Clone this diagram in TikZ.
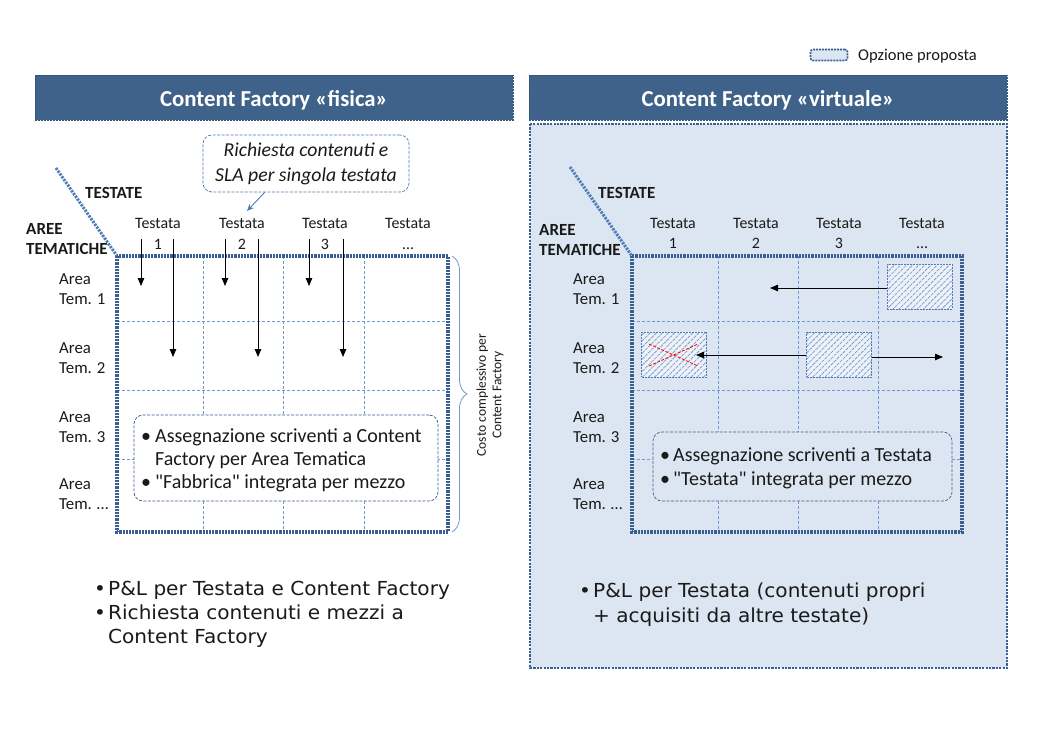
\documentclass[tikz,border=0pt]{standalone}
\usepackage{fontspec}
\setmainfont{Carlito}[Ligatures=TeXOff]
\newfontfamily\verd{DejaVu Sans}[FakeStretch=1.04]
\usetikzlibrary{patterns.meta,decorations.pathreplacing,arrows.meta,calc}
\definecolor{hdrblue}{HTML}{3F628A}
\definecolor{hdrborder}{HTML}{2E5470}
\definecolor{frameblue}{HTML}{3A5E91}
\definecolor{gridblue}{HTML}{7099CF}
\definecolor{midblue}{HTML}{4F7CB8}
\definecolor{lightfill}{HTML}{DCE6F2}
\definecolor{hatchblue}{HTML}{7B9BCB}
\definecolor{txt}{HTML}{1A1A1A}
\begin{document}
\begin{tikzpicture}[x=1pt,y=-1pt,
  frame/.style={draw=frameblue, line width=3.4pt, dash pattern=on 2.2pt off 1pt},
  gridline/.style={draw=gridblue, line width=0.8pt, dash pattern=on 3pt off 2pt},
  diag/.style={draw=midblue, line width=3pt, dash pattern=on 2.2pt off 1.2pt},
  hdr/.style={fill=hdrblue, draw=hdrborder, dash pattern=on 2pt off 1pt, line width=0.6pt, text=white,
     font=\bfseries\fontsize{22.8}{26}\selectfont, minimum width=478pt, minimum height=45pt, inner sep=0pt,
     text height=19pt, text depth=1pt},
  tlbl/.style={font=\fontsize{15.9}{20}\selectfont, anchor=base, text=txt, inner sep=0pt},
  alabel/.style={font=\fontsize{16.8}{20}\selectfont, anchor=base west, text=txt, inner sep=0pt},
  axis/.style={font=\bfseries\fontsize{17}{20}\selectfont, anchor=base west, text=txt, inner sep=0pt},
  bline/.style={font=\fontsize{20}{23}\selectfont, anchor=base west, text=txt, inner sep=0pt},
  vline/.style={font=\verd\fontsize{19.3}{24}\selectfont, anchor=base west, text=txt, inner sep=0pt},
  bbox/.style={draw=frameblue, line width=0.7pt, dash pattern=on 3pt off 1.5pt, rounded corners=9pt, inner sep=0pt},
  arr/.style={-{Triangle[length=8pt,width=6.5pt]}, line width=0.8pt, draw=black},
  hatchbox/.style={draw=midblue, line width=0.8pt, dash pattern=on 2pt off 1pt,
     preaction={fill=white!50!lightfill},
     pattern={Lines[angle=45,distance=4.3pt,line width=0.8pt]}, pattern color=hatchblue,
     minimum width=65pt, minimum height=45pt, inner sep=0pt},
]
\useasboundingbox (0,0) rectangle (1046,746);
\fill[white] (0,0) rectangle (1046,746);

% legend
\node[draw=frameblue, fill=lightfill, line width=1.6pt, dash pattern=on 2pt off 1pt, rounded corners=2.5pt,
  minimum width=37pt, minimum height=11pt, inner sep=0pt] (leg) at (829,55) {};
\node[font=\fontsize{16.5}{20}\selectfont, anchor=base west, text=txt, inner sep=0pt] (legtxt) at (858,61) {Opzione proposta};

% headers
\node[hdr] (hl) at (274,97.5) {Content Factory «fisica»};
\node[hdr] (hr) at (768,97.5) {Content Factory «virtuale»};

% right panel
\path[fill=lightfill, draw=frameblue, line width=2.2pt, dash pattern=on 2.2pt off 1.2pt] (530,124) rectangle (1007,668);

% ================= LEFT =================
\coordinate (dl1) at (56,168);
\coordinate (gl) at (117,256);
\draw[diag] (dl1) -- (gl);
\node[axis] (ltest) at (85,198) {TESTATE};
\node[axis] (lar1) at (26,234) {AREE};
\node[axis] (lar2) at (26,254) {TEMATICHE};

\foreach \x/\n [count=\i] in {158/1,242/2,325/3,408/…}{
  \node[tlbl] (lt\i) at (\x,228) {Testata};
  \node[tlbl] (ln\i) at (\x,249) {\n};
}

% grid
\foreach \x in {203,283,364} \draw[gridline] (\x,256) -- (\x,532);
\foreach \y in {321,390,459} \draw[gridline] (117,\y) -- (448,\y);
\draw[frame] (117,256) rectangle (448,532);

% area labels
\foreach \y/\n [count=\i] in {284/1,353/2,422/3,489/…}{
  \node[alabel] (la\i) at (59,\y) {Area};
  \node[alabel] (lb\i) at (59,\y+20) {Tem. \n};
}

% arrows
\foreach \xs/\xl [count=\i] in {141/173,225/258,309/343}{
  \coordinate (ss\i) at (\xs,239);
  \coordinate (se\i) at (\xs,286);
  \coordinate (ls\i) at (\xl,239);
  \coordinate (le\i) at (\xl,357);
  \draw[arr] (ss\i) -- (se\i);
  \draw[arr] (ls\i) -- (le\i);
}

% callout
\node[bbox, draw=midblue, fill=white, minimum width=206pt, minimum height=57pt, align=center,
  font=\itshape\fontsize{19.7}{25}\selectfont, text=txt] (call) at (306,163.5)
  {Richiesta contenuti e\\SLA per singola testata};
\coordinate (callp) at (247,211);
\draw[-{Stealth[length=7pt,width=6pt]}, draw=midblue, line width=0.9pt] ($(call.south west)!0.3!(call.south east)$) -- (callp);

% bullet box left
\node[bbox, fill=white, minimum width=304pt, minimum height=86pt] (lbox) at (286,458) {};
\node[bline] (lb1) at (141,442) {\textbullet};
\node[bline] (lt1x) at (155,442) {Assegnazione scriventi a Content};
\node[bline] (lt2x) at (155,465) {Factory per Area Tematica};
\node[bline] (lb2) at (141,488) {\textbullet};
\node[bline] (lt3x) at (155,488) {"Fabbrica" integrata per mezzo};

% brace
\draw[draw=gridblue, line width=0.8pt, decorate, decoration={brace, amplitude=15pt}] (452,256) -- (452,532);
\node[rotate=90, align=center, font=\fontsize{13.5}{15.5}\selectfont, text=txt, inner sep=0pt] (cost) at (490,395)
  {Costo complessivo per\\Content Factory};

% bottom text left
\node[vline] (bl1) at (94,595) {\textbullet};
\node[vline] (bl2) at (108,595) {P\&L per Testata e Content Factory};
\node[vline] (bl3) at (94,619) {\textbullet};
\node[vline] (bl4) at (108,619) {Richiesta contenuti e mezzi a};
\node[vline] (bl5) at (108,643) {Content Factory};

% ================= RIGHT =================
\coordinate (dr1) at (570,167);
\coordinate (gr) at (632,256);
\draw[diag] (dr1) -- (gr);
\node[axis] (rtest) at (598,198) {TESTATE};
\node[axis] (rar1) at (539,235) {AREE};
\node[axis] (rar2) at (539,255) {TEMATICHE};

\foreach \x/\n [count=\i] in {673/1,756/2,839/3,922/…}{
  \node[tlbl] (rt\i) at (\x,228) {Testata};
  \node[tlbl] (rn\i) at (\x,248) {\n};
}

\foreach \x in {718,798,878} \draw[gridline] (\x,256) -- (\x,532);
\foreach \y in {321,390,459} \draw[gridline] (632,\y) -- (962,\y);
\draw[frame] (632,256) rectangle (962,532);

\foreach \y/\n [count=\i] in {284/1,353/2,422/3,489/…}{
  \node[alabel] (ra\i) at (573,\y) {Area};
  \node[alabel] (rb\i) at (573,\y+20) {Tem. \n};
}

% hatched boxes
\node[hatchbox] (h1) at (919.5,286.5) {};
\node[hatchbox] (h2) at (674,354.5) {};
\node[hatchbox] (h3) at (839,354.5) {};
\coordinate (x1) at (649,344);
\coordinate (x2) at (698,366);
\coordinate (x3) at (649,366);
\coordinate (x4) at (698,344);
\draw[red, line width=0.8pt, dash pattern=on 3pt off 1.5pt] (x1) -- (x2);
\draw[red, line width=0.8pt, dash pattern=on 3pt off 1.5pt] (x3) -- (x4);

\coordinate (a1) at (770,288);
\coordinate (a2) at (696,355);
\coordinate (a3) at (943,357);
\draw[arr] (h1.west |- a1) -- (a1);
\draw[arr] (h3.west |- a2) -- (a2);
\draw[arr] (h3.east |- a3) -- (a3);

% bullet box right
\node[bbox, fill=lightfill, minimum width=299pt, minimum height=69pt] (rbox) at (802.5,466.5) {};
\node[bline] (rb1x) at (660,461) {\textbullet};
\node[bline] (rt1x) at (673,461) {Assegnazione scriventi a Testata};
\node[bline] (rb2x) at (660,485) {\textbullet};
\node[bline] (rt2x) at (673,485) {"Testata" integrata per mezzo};

% bottom text right
\node[vline] (br1) at (579,597) {\textbullet};
\node[vline] (br2) at (593,597) {P\&L per Testata (contenuti propri};
\node[vline] (br3) at (593,622) {+ acquisiti da altre testate)};
\end{tikzpicture}
\end{document}
